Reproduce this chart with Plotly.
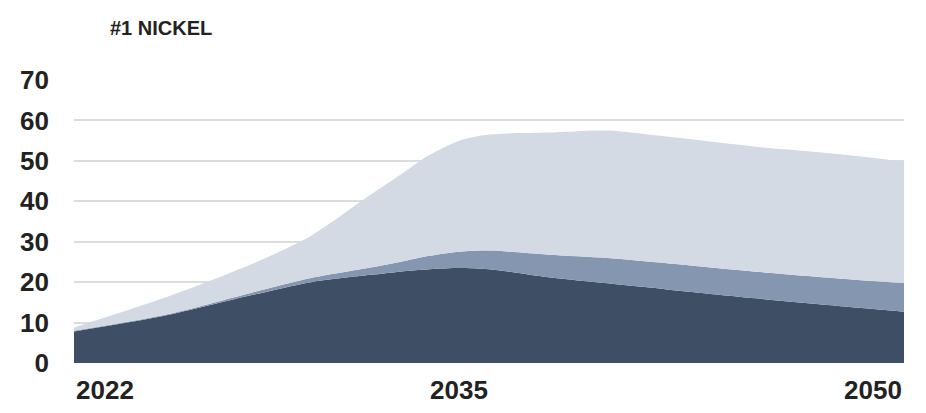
import plotly.graph_objects as go

years = [2022, 2025, 2028, 2030, 2032, 2033, 2034, 2035, 2036, 2038, 2040, 2042, 2045, 2048, 2050]
# stacked layer values
dark_layer = [7.8, 11.6, 16.8, 20.0, 21.8, 22.6, 23.2, 23.5, 23.2, 21.2, 19.7, 18.2, 16.0, 14.0, 12.7]
mid_layer = [0.2, 0.2, 0.6, 1.0, 1.8, 2.4, 3.3, 4.0, 4.6, 5.6, 6.3, 6.5, 6.6, 6.8, 7.1]
light_layer = [0.8, 4.2, 7.1, 10.5, 18.0, 21.5, 25.0, 27.5, 28.7, 30.2, 31.5, 31.3, 30.9, 30.7, 30.0]

y_ticks = [0, 10, 20, 30, 40, 50, 60, 70]
x_labels = ["2022", "2035", "2050"]
x_label_years = [2022, 2035, 2050]
x_label_anchor = ["left", "center", "right"]
title_text = "#1 NICKEL"

FONT = "Liberation Sans, Arial, sans-serif"

fig = go.Figure()
for vals, col in [(dark_layer, "#3d4e65"), (mid_layer, "#8596b0"), (light_layer, "#d3dae4")]:
    fig.add_trace(go.Scatter(
        x=years, y=vals, mode="lines", stackgroup="one",
        line=dict(width=0, shape="spline", smoothing=0.8),
        fillcolor=col, hoverinfo="skip", showlegend=False,
    ))

for lab, yr, anc in zip(x_labels, x_label_years, x_label_anchor):
    fig.add_annotation(x=yr, y=0, xref="x", yref="paper", text="<b>" + lab + "</b>",
                       showarrow=False, xanchor=anc, yanchor="top", yshift=-10,
                       font=dict(family=FONT, size=26, color="#222222"))

fig.update_layout(
    width=926, height=413,
    margin=dict(l=74, r=22, t=80, b=50),
    paper_bgcolor="white", plot_bgcolor="white",
    title=dict(text="<b>" + title_text + "</b>", x=110/926, xref="container", xanchor="left",
               y=1 - 28/413, yref="container", yanchor="middle",
               font=dict(family=FONT, size=20, color="#222222")),
    xaxis=dict(range=[2022, 2050], showgrid=False, zeroline=False, showticklabels=False,
               showline=False, fixedrange=True),
    yaxis=dict(range=[0, 70], tickvals=y_ticks, ticktext=["<b>%d</b>" % v for v in y_ticks],
               showgrid=True, gridcolor="#dcdcdc", gridwidth=2, zeroline=False,
               showline=False, ticklabelstandoff=24,
               tickfont=dict(family=FONT, size=26, color="#222222"), fixedrange=True),
)

fig.write_html("out.html")
